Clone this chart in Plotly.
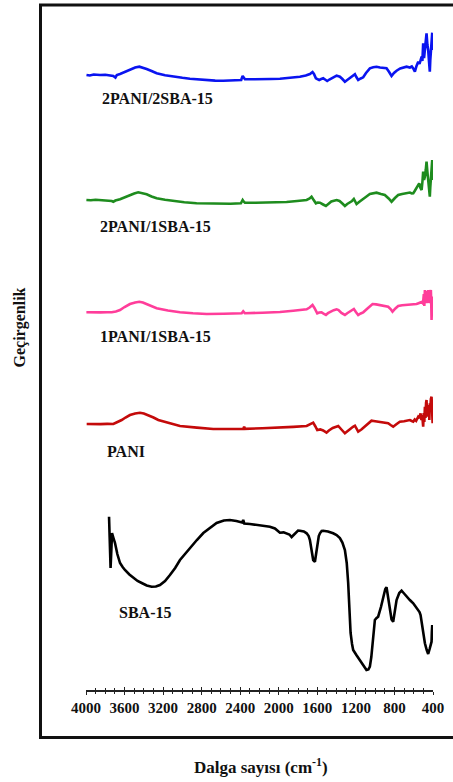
import plotly.graph_objects as go

# FTIR spectra (wavenumber, cm-1) with vertical offsets in arbitrary transmittance units
wn_b = [3995, 3960, 3920, 3880, 3855, 3800, 3760, 3717, 3695, 3680, 3647, 3600, 3544, 3490, 3447, 3410,
        3371, 3320, 3267, 3180, 3095, 3000, 2922, 2830, 2748, 2660, 2576, 2480, 2390, 2375, 2365, 2351,
        2250, 2161, 2080, 1988, 1880, 1781, 1720, 1677, 1650, 1635, 1615, 1595, 1581, 1560, 1539, 1520,
        1498, 1475, 1452, 1425, 1400, 1380, 1366, 1340, 1314, 1290, 1262, 1235, 1210, 1195, 1176, 1150,
        1124, 1095, 1055, 1020, 986, 950, 910, 882, 855, 830, 805, 778, 740, 700, 674, 640, 620, 605,
        588, 571, 553, 540, 530, 518, 510, 502, 493, 484, 475, 467, 458, 450, 441, 433, 428, 422, 415,
        408, 404, 401]
t_b = [615, 614.5, 615.5, 614.8, 615, 615.3, 614.5, 614, 612.5, 615, 616, 618, 620.7, 622.5, 623.3, 622.5,
       621, 619, 616.7, 614.8, 613.3, 612.2, 611.3, 610.5, 609.7, 609.4, 609.3, 609.6, 610, 614, 612, 610.7,
       610.8, 610.7, 611, 611.3, 612.2, 613.3, 614.5, 616, 618, 616, 611.7, 610.5, 610, 611, 611.7, 610.5,
       609, 610.5, 611.7, 613.5, 614.3, 613.8, 613.3, 611, 608.3, 610, 611.7, 613.5, 615.7, 613, 610, 611.5,
       612.7, 617, 621.7, 622.8, 623.3, 622.5, 622, 621.7, 618, 614, 617, 619.3, 621.5, 622.5, 623.3, 622.5, 623.5, 621.5,
       618.3, 624, 628.3, 626, 631, 633.3, 629, 646.7, 632, 640, 650, 656.7, 645, 640, 628, 618.3, 630, 640, 650,
       657.3, 648, 640]

wn_g = [3996, 3950, 3900, 3855, 3780, 3733, 3717, 3695, 3647, 3600, 3544, 3500, 3458, 3420, 3371, 3320,
        3267, 3180, 3095, 2980, 2853, 2730, 2611, 2500, 2393, 2375, 2365, 2351, 2240, 2126, 2020, 1919,
        1810, 1711, 1680, 1660, 1645, 1615, 1595, 1573, 1540, 1511, 1480, 1455, 1400, 1370, 1340, 1314,
        1290, 1262, 1240, 1221, 1193, 1160, 1124, 1090, 1055, 1020, 986, 940, 900, 860, 830, 795, 761,
        720, 674, 640, 620, 605, 590, 571, 556, 543, 530, 518, 510, 502, 493, 484, 475, 467, 458, 450,
        441, 433, 428, 422, 415, 408, 404, 401]
t_g = [490, 489.7, 490.3, 490, 489.5, 489, 488.3, 489.5, 490.7, 492.8, 495, 496.5, 497.7, 497, 495.7, 493.5,
       491.7, 490.2, 489, 487.8, 486.7, 486.3, 486, 486.3, 486.7, 490, 488.5, 487.3, 487.3, 487.3, 487.6, 488,
       489, 490, 491.5, 493.3, 491, 486.7, 487.5, 487.3, 485.5, 484, 486.5, 488.5, 490, 489, 486.5, 484,
       486, 487.3, 489, 491, 486, 488.5, 490.7, 493.5, 496, 497, 497.3, 496, 495, 491.5, 488.3, 492, 495,
       496, 496.7, 497.5, 496.5, 496.7, 499, 501.7, 505, 506.7, 502, 500, 508, 518.3, 510, 513.3, 520, 528.3, 518, 510,
       500, 493.3, 503, 513.3, 522, 530, 520, 510]

wn_p = [3996, 3950, 3900, 3850, 3780, 3733, 3690, 3647, 3600, 3544, 3490, 3447, 3410, 3371, 3320, 3267,
        3150, 3025, 2890, 2748, 2570, 2385, 2369, 2351, 2170, 1988, 1850, 1711, 1680, 1650, 1630, 1601,
        1580, 1556, 1530, 1511, 1490, 1463, 1430, 1400, 1380, 1350, 1314, 1290, 1262, 1240, 1221, 1200,
        1176, 1150, 1124, 1080, 1027, 990, 952, 910, 865, 840, 820, 790, 761, 720, 690, 657, 620, 590,
        571, 550, 536, 520, 508, 502, 495, 490, 484, 478, 472, 467, 461, 456, 450, 445, 439, 433, 428,
        422, 418, 415, 411, 408, 404, 400]
t_p = [377.7, 377.5, 377.9, 377.6, 377.8, 377.7, 378.5, 380, 383, 386, 387.6, 388.3, 387.5, 386, 384, 381.7,
       379.5, 377.7, 376.7, 376, 376.3, 376.7, 378.7, 376.7, 377.3, 378, 379.3, 380.7, 382.5, 385, 382, 376.7,
       377.5, 377.7, 376, 375, 376.8, 378.3, 379.8, 380.7, 380, 377, 375, 376.8, 378.3, 379.6, 381, 378,
       375, 376.5, 377.7, 381.5, 386, 385.6, 385, 384.2, 383.3, 381, 378.3, 381.5, 384, 384.7, 385, 385, 385.6, 385.3,
       386, 386.8, 387.3, 388, 387, 388.3, 396, 384, 400, 388, 399, 386.7, 398, 388, 400, 387, 399, 386.7, 398,
       400, 385, 370, 381, 392, 393.3, 383.3]

wn_r = [3993, 3950, 3900, 3850, 3780, 3717, 3690, 3660, 3630, 3590, 3544, 3490, 3440, 3400, 3354, 3300,
        3250, 3140, 3025, 2850, 2680, 2520, 2369, 2359, 2350, 2170, 1988, 1850, 1711, 1675, 1643, 1620,
        1601, 1570, 1540, 1505, 1480, 1440, 1383, 1350, 1314, 1285, 1255, 1230, 1210, 1190, 1176, 1140,
        1107, 1070, 1038, 1000, 952, 910, 865, 840, 813, 780, 744, 700, 670, 640, 620, 605, 590, 575,
        553, 540, 529, 520, 512, 502, 496, 490, 484, 478, 472, 467, 461, 456, 450, 444, 438, 433, 428,
        422, 415, 410, 404, 400]
t_r = [266, 265.8, 266.2, 265.9, 266.1, 266, 267.2, 268.5, 270, 272.5, 275, 276.5, 277.3, 276.5, 275, 272.5,
       270, 266.8, 264, 262.4, 261, 261, 261, 263.3, 261.2, 261.7, 262.3, 263.1, 264, 265.5, 267.3, 263.5,
       260, 260.6, 259.5, 257.3, 259.5, 262, 264, 260.5, 256.7, 259, 261.7, 263.2, 264.3, 261, 258.3, 260.8,
       263.3, 266.5, 269.3, 268.8, 268.3, 267.5, 266.7, 265, 263.3, 265.8, 268.3, 268.8, 269.5, 270, 269, 268.3, 270.5, 269.2,
       273.3, 272, 276.7, 270, 275, 263.3, 277, 268, 283.3, 272, 287, 290, 275, 283, 273.3, 285, 270, 286.7, 280,
       291, 293.3, 282, 266.7, 286.7]

wn_s = [3761, 3745, 3737, 3730, 3715, 3699, 3675, 3647, 3620, 3596, 3550, 3509, 3465, 3422, 3370, 3319,
        3275, 3233, 3180, 3129, 3075, 3025, 2970, 2922, 2850, 2783, 2710, 2645, 2570, 2507, 2440, 2380,
        2369, 2358, 2300, 2230, 2160, 2092, 2040, 1988, 1950, 1919, 1890, 1867, 1830, 1800, 1781, 1740,
        1711, 1690, 1677, 1660, 1643, 1625, 1612, 1601, 1585, 1573, 1555, 1539, 1490, 1436, 1400, 1366,
        1340, 1314, 1295, 1280, 1268, 1255, 1240, 1228, 1195, 1159, 1120, 1090, 1070, 1055, 1040, 1027,
        1015, 1003, 985, 969, 940, 917, 895, 882, 865, 848, 830, 813, 795, 778, 750, 726, 700, 674, 640,
        605, 575, 553, 540, 529, 510, 495, 484, 465, 450, 435, 425, 415, 412, 408, 404]
t_s = [173.3, 122, 140, 157, 152, 147, 136, 127, 123, 120, 115.5, 112, 109, 107, 104.5, 103.3,
       103.5, 105, 109, 115, 122, 130, 136.5, 142, 150, 157, 162.5, 167, 169.5, 170, 169, 167.5,
       170, 166.5, 166, 165, 164, 163.3, 161.5, 157.3, 157.6, 156.7, 155.5, 153, 157, 159.5, 159.3, 158.5,
       156.7, 154, 150, 141, 130, 128.3, 136, 147, 154, 156.7, 159, 159.3, 158.5, 156.7, 155, 152,
       147.5, 140, 127, 107, 82, 57, 46, 40, 35, 30, 25, 20, 20.5, 23.3, 33, 47,
       60, 70, 72, 73.3, 83, 93.3, 101, 102.7, 92, 80, 70.5, 68.3, 80, 90, 97, 99.3, 96.5, 93.3, 90,
       86.7, 83, 80, 78, 75, 62, 52, 46.7, 40, 36, 41, 47, 48.3, 58, 65, 50]

series = [
    ("2PANI/2SBA-15", wn_b, t_b, "#0a14f0", 3855, 591.7),
    ("2PANI/1SBA-15", wn_g, t_g, "#1e8c1e", 3872, 464),
    ("1PANI/1SBA-15", wn_p, t_p, "#ff3d9a", 3872, 353.3),
    ("PANI", wn_r, t_r, "#c40a0a", 3803, 238.3),
    ("SBA-15", wn_s, t_s, "#000000", 3682, 77.3),
]

ticks = [4000, 3600, 3200, 2800, 2400, 2000, 1600, 1200, 800, 400]

W, H = 453, 782
L, R, T, B = 86, 20, 10, 92
pw, ph = W - L - R, H - T - B

fig = go.Figure()
serif = "Liberation Serif"
annotations = []
for name, x, y, col, lx, ly in series:
    fig.add_trace(go.Scatter(x=x, y=y, mode="lines", name=name,
                             line=dict(color=col, width=2.6), showlegend=False, hoverinfo="skip"))
    annotations.append(dict(x=lx, y=ly, xref="x", yref="y", text=name, showarrow=False,
                            xanchor="left", yanchor="middle",
                            font=dict(family=serif, size=16, color="#111111", weight="bold")))

# companion axis that puts the inner half of each tick above the axis line
fig.add_trace(go.Scatter(x=[ticks[0], ticks[-1]], y=[0, 0], xaxis="x2", mode="lines",
                         line=dict(width=0), opacity=0, showlegend=False, hoverinfo="skip"))

axis_common = dict(range=[4000, 400], tickvals=ticks, showgrid=False, zeroline=False,
                   showline=True, linecolor="#222222", linewidth=1.5, tickcolor="#222222",
                   tickwidth=1.2)
fig.update_layout(
    width=W, height=H, margin=dict(l=L, r=R, t=T, b=B),
    paper_bgcolor="white", plot_bgcolor="white",
    xaxis=dict(**axis_common, ticks="outside", ticklen=3,
               ticktext=[str(t) for t in ticks],
               tickfont=dict(family=serif, size=15, color="#111111", weight="bold"),
               minor=dict(dtick=100, tick0=400, ticks="outside", ticklen=2, tickcolor="#222222", tickwidth=1)),
    xaxis2=dict(**axis_common, overlaying="x", anchor="y", side="bottom", ticks="inside", ticklen=3,
                showticklabels=False,
                minor=dict(dtick=100, tick0=400, ticks="inside", ticklen=2, tickcolor="#222222", tickwidth=1)),
    yaxis=dict(range=[0, 680], visible=False),
    annotations=annotations + [
        dict(x=(260.5 - L) / pw, y=(H - B - 766) / ph, xref="paper", yref="paper",
             text="Dalga sayısı (cm<sup>-1</sup>)", showarrow=False, xanchor="center", yanchor="middle",
             font=dict(family=serif, size=17, color="#111111", weight="bold")),
        dict(x=(19 - L) / pw, y=(H - B - 327.5) / ph, xref="paper", yref="paper",
             text="Geçirgenlik", textangle=-90, showarrow=False, xanchor="center", yanchor="middle",
             font=dict(family=serif, size=16, color="#111111", weight="bold")),
    ],
    shapes=[dict(type="rect", xref="paper", yref="paper",
                 x0=(40.5 - L) / pw, x1=(470 - L) / pw,
                 y0=(H - B - 737.5) / ph, y1=(H - B - 5) / ph,
                 line=dict(color="#111111", width=3), fillcolor="rgba(0,0,0,0)", layer="below")],
)

fig.write_html("out.html")
